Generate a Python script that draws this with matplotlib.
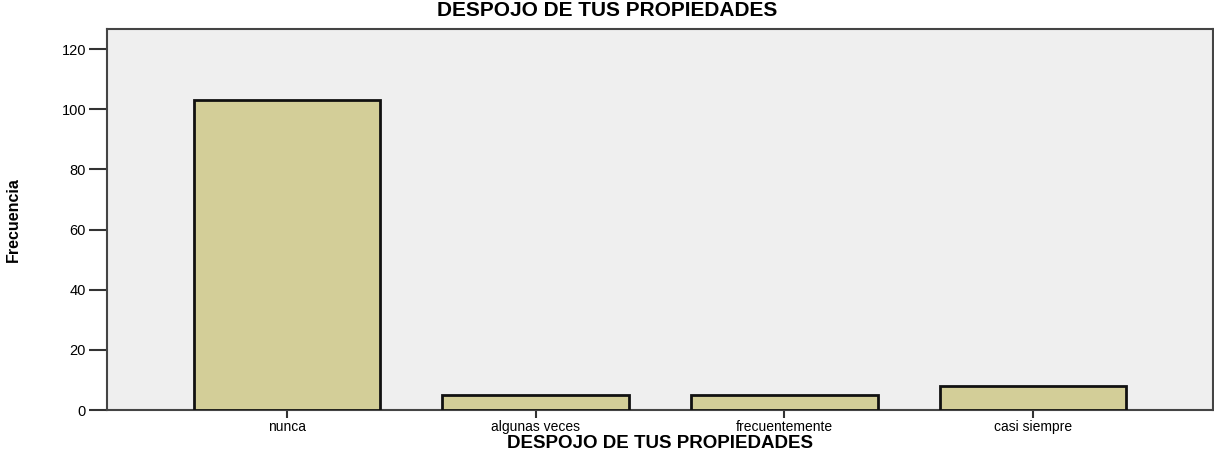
import numpy as np
import matplotlib.pyplot as plt

# Datos
categorias = ["nunca", "algunas veces", "frecuentemente", "casi siempre"]
frecuencias = [103, 5, 5, 8]
yticks = [0, 20, 40, 60, 80, 100, 120]

plt.rcParams['font.family'] = ['Liberation Sans', 'DejaVu Sans']

fig = plt.figure(figsize=(12.14, 4.55), dpi=100)
ax = fig.add_axes([0.0881, 0.0989, 0.911, 0.8374])
ax.set_facecolor('#efefef')

x = np.arange(len(categorias))
ax.bar(x, frecuencias, width=0.75, color='#d3ce98', edgecolor='#111111', linewidth=2, zorder=3)

ax.set_xlim(-0.723, 3.723)
ax.set_ylim(0, 126.7)
ax.set_yticks(yticks)
ax.set_xticks(x)
ax.set_xticklabels(categorias, fontsize=10)
ax.tick_params(axis='y', length=13, width=1.5, color='#333333', labelsize=10.5, pad=2)
ax.tick_params(axis='x', length=6, width=1.5, color='#333333', pad=1)

for s in ax.spines.values():
    s.set_color('#444444')
    s.set_linewidth(1.5)

ax.set_xlabel("DESPOJO DE TUS PROPIEDADES", fontsize=13.5, fontweight='bold', labelpad=1)
ax.set_ylabel("Frecuencia", fontsize=11.5, fontweight='bold')
ax.yaxis.set_label_coords(-0.078, 0.5)
fig.suptitle("DESPOJO DE TUS PROPIEDADES", fontsize=15, fontweight='bold', y=0.997)

plt.savefig("out.png", dpi=100)
